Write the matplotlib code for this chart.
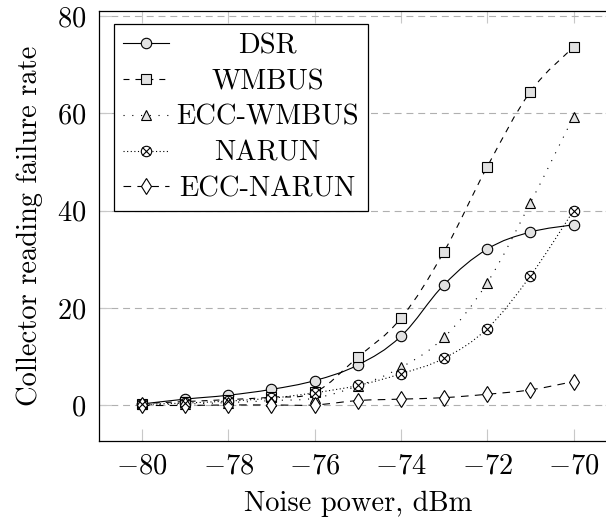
import matplotlib
matplotlib.use("Agg")
import matplotlib.pyplot as plt
from matplotlib.path import Path
from matplotlib.patches import PathPatch
from matplotlib.lines import Line2D
from matplotlib.legend_handler import HandlerTuple

plt.rcParams['font.family'] = 'cmr10'
plt.rcParams['mathtext.fontset'] = 'cm'
plt.rcParams['axes.formatter.use_mathtext'] = True
plt.rcParams['axes.unicode_minus'] = True
plt.rcParams['lines.scale_dashes'] = False
plt.rcParams['font.size'] = 20.5

noise = [-80, -79, -78, -77, -76, -75, -74, -73, -72, -71, -70]
dsr = [0.3, 1.3, 2.1, 3.3, 5.1, 8.3, 14.2, 24.8, 32.1, 35.6, 37.1]
wmbus = [0.4, 0.8, 1.2, 1.7, 2.7, 9.9, 17.9, 31.6, 49.0, 64.4, 73.6]
ecc_wmbus = [0.2, 0.3, 0.6, 1.0, 1.5, 4.0, 7.8, 14.0, 25.2, 41.6, 59.3]
narun = [0.2, 0.5, 0.9, 1.5, 2.6, 4.1, 6.5, 9.7, 15.8, 26.6, 40.0]
ecc_narun = [0.0, 0.0, 0.1, 0.1, 0.1, 1.0, 1.3, 1.6, 2.3, 3.2, 4.9]

xticks = [-80, -78, -76, -74, -72, -70]
yticks = [0, 20, 40, 60, 80]

gray = '#e2e2e2'


def smooth(x, y, tension=0.55):
    # bezier path through the points, like tikz "smooth"
    k = tension / 3.0
    verts = [(x[0], y[0])]
    codes = [Path.MOVETO]
    n = len(x)
    for i in range(n - 1):
        x0, y0 = x[max(i - 1, 0)], y[max(i - 1, 0)]
        x3, y3 = x[min(i + 2, n - 1)], y[min(i + 2, n - 1)]
        c1 = (x[i] + k * (x[i + 1] - x0), y[i] + k * (y[i + 1] - y0))
        c2 = (x[i + 1] - k * (x3 - x[i]), y[i + 1] - k * (y3 - y[i]))
        verts += [c1, c2, (x[i + 1], y[i + 1])]
        codes += [Path.CURVE4] * 3
    return Path(verts, codes)


fig = plt.figure(figsize=(6.06, 5.2), dpi=100)
ax = fig.add_axes([98.7 / 606, 79 / 520, 518 / 606, 430 / 520])

styles = [
    (dsr, '-', dict(marker='o', ms=7.5, mfc=gray)),
    (wmbus, (0, (4.3, 4.3)), dict(marker='s', ms=7.5, mfc=gray)),
    (ecc_wmbus, (0, (0.8, 5.5)), dict(marker='^', ms=7.0, mfc=gray)),
    (narun, (0, (0.8, 1.8)), dict(marker='o', ms=7.5, mfc='white')),
    (ecc_narun, (0, (5.5, 4.5)), dict(marker='d', ms=8.0, mfc='white')),
]

handles = []
for vals, ls, mk in styles:
    ax.add_patch(PathPatch(smooth(noise, vals), fill=False, lw=0.8,
                           ls=ls, ec='black', zorder=3))
    ax.plot(noise, vals, ls='none', mec='black', mew=0.8, zorder=4, **mk)
    h = Line2D([], [], color='black', lw=0.8, ls=ls, mec='black',
               mew=0.8, **mk)
    handles.append(h)

# cross inside the NARUN circles
ax.plot(noise, narun, ls='none', marker='x', ms=5.3, mec='black',
        mew=0.8, zorder=5)
handles[3] = (handles[3], Line2D([], [], ls='none', marker='x', ms=5.3,
                                 mec='black', mew=0.8))

ax.set_xlim(-81, -69)
ax.set_ylim(-7.3, 81)
ax.set_xticks(xticks)
ax.set_yticks(yticks)
ax.tick_params(direction='in', length=8.5, width=0.8, color='#c8c8c8',
               top=True, right=True, pad=9)
ax.grid(axis='y', color='#b0b0b0', lw=0.8, ls=(0, (5, 3.5)))
ax.set_axisbelow(True)
for s in ax.spines.values():
    s.set_linewidth(0.9)

ax.set_xlabel('Noise power, dBm', labelpad=8)
ax.set_ylabel('Collector reading failure rate', labelpad=10)

labels = ['DSR', 'WMBUS', 'ECC-WMBUS', 'NARUN', 'ECC-NARUN']
leg = ax.legend(handles, labels, loc='upper left', bbox_to_anchor=(0.03, 0.97),
                borderaxespad=0, fancybox=False, edgecolor='black',
                framealpha=1, handlelength=1.6, handletextpad=0.25,
                labelspacing=0.33, borderpad=0.32,
                handler_map={tuple: HandlerTuple(ndivide=1)})
leg.get_frame().set_linewidth(0.9)

# center the legend entries
fig.canvas.draw()
r = fig.canvas.get_renderer()
widths = [t.get_window_extent(r).width for t in leg.get_texts()]
wmax = max(widths)
for t, w in zip(leg.get_texts(), widths):
    t.set_x((wmax - w) / 2)

fig.savefig('out.png', dpi=100)
